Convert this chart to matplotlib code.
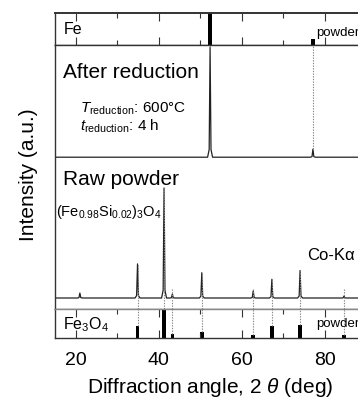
import numpy as np
import matplotlib
matplotlib.use('Agg')
import matplotlib.pyplot as plt
from matplotlib.ticker import MultipleLocator

plt.rcParams['font.family'] = ['Liberation Sans', 'DejaVu Sans']
plt.rcParams['mathtext.fontset'] = 'custom'
plt.rcParams['mathtext.rm'] = 'Liberation Sans'
plt.rcParams['mathtext.it'] = 'Liberation Sans:italic'
plt.rcParams['mathtext.bf'] = 'Liberation Sans:bold'

# reference lines (Co-Ka), relative intensity
fe_pos = [52.4, 77.2]
fe_int = [100, 19]
fe3o4_pos = [34.9, 41.3, 43.3, 50.4, 62.8, 67.3, 74.1, 84.7]
fe3o4_int = [40, 100, 14, 21, 12, 42, 45, 11]

# measured patterns: peak positions and heights (relative)
raw_pos = [21.0, 34.9, 41.3, 43.3, 50.4, 62.8, 67.3, 74.1, 84.7]
raw_int = [4.5, 31, 100, 3.6, 23, 6.4, 17, 25, 1.8]
red_pos = [52.4, 77.2]
red_int = [100, 7.3]

x_min, x_max = 15, 90
red_offset = 128


def pattern(pos, hgt):
    # flat baseline with narrow peaks drawn at the listed positions
    xs = [x_min]
    ys = [0]
    for p, h in sorted(zip(pos, hgt)):
        xs += [p - 0.6, p - 0.22, p, p + 0.22, p + 0.6]
        ys += [0, 0.07 * h, h, 0.07 * h, 0]
    xs.append(x_max)
    ys.append(0)
    return np.array(xs), np.array(ys)


W, H = 358, 399
fig = plt.figure(figsize=(W / 100, H / 100), dpi=100)
left = 55 / W
width = (366 - 55) / W


def box(top_px, bot_px):
    return [left, 1 - bot_px / H, width, (bot_px - top_px) / H]


ax_fe = fig.add_axes(box(13, 45))
ax = fig.add_axes(box(45, 309))
ax_mag = fig.add_axes(box(309, 338))

spine_col = '#333333'
for a in (ax_fe, ax, ax_mag):
    a.set_xlim(x_min, x_max)
    a.set_yticks([])
    for s in a.spines.values():
        s.set_color(spine_col)
        s.set_linewidth(1.0)
    a.xaxis.set_major_locator(MultipleLocator(20))
    a.xaxis.set_minor_locator(MultipleLocator(10))
    a.tick_params(axis='x', which='both', direction='in', top=True, bottom=True,
                  color=spine_col, width=0.8)
    a.tick_params(axis='x', which='major', length=6)
    a.tick_params(axis='x', which='minor', length=3.5)
ax_mag.spines['top'].set_color('#888888')
ax_fe.spines['top'].set_linewidth(1.4)

# Fe reference
ax_fe.set_ylim(0, 100)
ax_fe.bar(fe_pos, fe_int, width=0.9, color='black')
ax_fe.set_xticklabels([])
ax_fe.text(17, 50, 'Fe', fontsize=11.5, va='center')
ax_fe.text(78, 38, 'powder', fontsize=9.5, va='center')

# measured patterns
ax.set_ylim(-10, 230)
ax.tick_params(axis='x', which='both', length=0, labelbottom=False)
xr, yr = pattern(red_pos, red_int)
ax.plot(xr, yr + red_offset, color='#222222', lw=0.9)
xw, yw = pattern(raw_pos, raw_int)
ax.plot(xw, yw, color='#222222', lw=0.9)

dot = dict(color='#888888', lw=0.8, ls=(0, (1.2, 1.2)))
for p, h in zip(red_pos, red_int):
    ax.plot([p, p], [h + red_offset, 230], **dot)
for p in fe3o4_pos:
    h = raw_int[raw_pos.index(p)]
    ax.plot([p, p], [-10, max(h, 8)], **dot)

ax.text(17, 205, 'After reduction', fontsize=15, va='center')
ax.text(21, 172, r'$T_{\rm reduction}$: 600$\degree$C', fontsize=11, va='center')
ax.text(21, 156, r'$t_{\rm reduction}$: 4 h', fontsize=11, va='center')
ax.text(17, 108, 'Raw powder', fontsize=15, va='center')
ax.text(15.3, 78, r'(Fe$_{0.98}$Si$_{0.02}$)$_3$O$_4$', fontsize=10.5, va='center')
ax.text(87.2, 39, 'Co-Kα', fontsize=12, va='center', ha='right')

# Fe3O4 reference
ax_mag.set_ylim(0, 100)
ax_mag.bar(fe3o4_pos, fe3o4_int, width=0.85, color='black')
for p, h in zip(fe3o4_pos, fe3o4_int):
    ax_mag.plot([p, p], [h, 100], **dot)
ax_mag.text(17, 45, r'Fe$_3$O$_4$', fontsize=11.5, va='center')
ax_mag.text(78, 50, 'powder', fontsize=9.5, va='center')
ax_mag.tick_params(axis='x', which='major', labelsize=14, pad=10)
ax_mag.set_xlabel(r'Diffraction angle, 2 $\theta$ (deg)', fontsize=15, labelpad=5)

fig.text(29 / W, 1 - 175 / H, 'Intensity (a.u.)', rotation=90, fontsize=15,
         ha='center', va='center')

fig.savefig('out.png', dpi=100)
